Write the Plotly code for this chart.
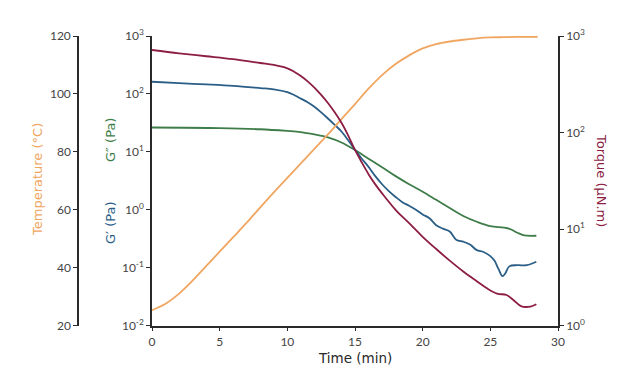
import plotly.graph_objects as go

# ---- data ----
temp_time = [0, 1, 2, 3, 4, 5, 6, 7, 8, 9, 10, 11, 12, 13, 14, 15, 16, 17, 18, 19, 20, 21, 22, 23, 24, 25, 26, 27, 28, 28.5]
temp_vals = [25.3, 27.5, 31.0, 35.5, 40.5, 45.5, 50.5, 55.5, 60.8, 66, 71, 76, 81, 86, 91.3, 96.5, 101.8, 106.5, 110.3,
             113.3, 115.7, 117.2, 118.1, 118.7, 119.2, 119.5, 119.6, 119.7, 119.7, 119.7]

gp_time = [0, 2, 4, 6, 8, 9, 10, 10.5, 11, 11.5, 12, 12.5, 13, 13.5, 14, 14.5, 15, 15.5, 16, 16.5, 17, 17.5, 18, 18.5,
           19, 19.5, 20, 20.5, 21, 21.5, 22, 22.5, 23, 23.5, 24, 24.5, 25, 25.3, 25.6, 25.9, 26.1, 26.4, 27, 27.7, 28.4]
gp_vals = [162, 153, 146, 138, 126, 120, 107, 95.5, 83, 72, 60, 48, 37.6, 29.2, 22.4, 15.8, 10.8, 7.6, 5.5, 3.8, 2.75,
           2.1, 1.66, 1.35, 1.17, 1.0, 0.83, 0.71, 0.54, 0.47, 0.42, 0.30, 0.28, 0.25, 0.20, 0.186, 0.158, 0.132,
           0.095, 0.071, 0.079, 0.105, 0.11, 0.11, 0.126]

gpp_time = [0, 5, 8, 10, 11, 12, 13, 14, 15, 16, 17, 18, 19, 20, 21, 22, 23, 24, 25, 26, 26.5, 27, 27.5, 28.4]
gpp_vals = [26.3, 25.7, 24.5, 22.9, 21.9, 20, 17.8, 14.5, 10.7, 7.6, 5.4, 3.8, 2.75, 2.04, 1.48, 1.07, 0.78, 0.62,
            0.52, 0.49, 0.46, 0.40, 0.36, 0.355]

torque_time = [0, 2, 4, 6, 8, 9, 10, 10.5, 11, 11.5, 12, 12.5, 13, 13.5, 14, 14.5, 15, 15.5, 16, 16.5, 17, 18, 19,
               20, 21, 22, 23, 24, 24.75, 25.5, 26.2, 26.7, 27.3, 27.96, 28.4]
torque_vals = [716, 661, 617, 575, 525, 501, 462, 427, 385, 339, 292, 245, 202, 162, 126, 93, 66, 49, 37, 29, 23.4,
               15.8, 11.5, 8.3, 6.2, 4.7, 3.63, 2.88, 2.43, 2.14, 2.07, 1.84, 1.58, 1.57, 1.66]

x_ticks = [0, 5, 10, 15, 20, 25, 30]
temp_ticks = [20, 40, 60, 80, 100, 120]
mod_tickvals = [0.01, 0.1, 1, 10, 100, 1000]
mod_ticktext = ["10<sup>-2</sup>", "10<sup>-1</sup>", "10<sup>0</sup>", "10<sup>1</sup>", "10<sup>2</sup>", "10<sup>3</sup>"]
tq_tickvals = [1, 10, 100, 1000]
tq_ticktext = ["10<sup>0</sup>", "10<sup>1</sup>", "10<sup>2</sup>", "10<sup>3</sup>"]

C_T = "#F0A660"
C_GP = "#2A5E86"
C_GPP = "#3E7D49"
C_TQ = "#8C1D43"
AX = "#2a2a2a"
TICKC = "#444444"
TICKFONT = "Lato, DejaVu Sans, sans-serif"
TITLEFONT = "DejaVu Sans, sans-serif"

W, H = 641, 389
def px(x):
    return x / W
def py(y):
    return 1 - y / H

xdom = [px(152), px(558)]
ydom = [py(325.5), py(36)]

fig = go.Figure()
fig.add_trace(go.Scatter(x=temp_time, y=temp_vals, yaxis="y2", mode="lines", line=dict(color=C_T, width=1.8, shape="spline"), name="Temperature"))
fig.add_trace(go.Scatter(x=gpp_time, y=gpp_vals, yaxis="y", mode="lines", line=dict(color=C_GPP, width=1.8, shape="spline"), name="G''"))
fig.add_trace(go.Scatter(x=gp_time, y=gp_vals, yaxis="y", mode="lines", line=dict(color=C_GP, width=1.8, shape="spline"), name="G'"))
fig.add_trace(go.Scatter(x=torque_time, y=torque_vals, yaxis="y3", mode="lines", line=dict(color=C_TQ, width=1.8, shape="spline"), name="Torque"))

common = dict(showgrid=False, zeroline=False, showline=True, linecolor=AX, linewidth=1.5,
              ticks="outside", ticklen=4, tickcolor=AX, tickwidth=1.2, automargin=False,
              tickfont=dict(family=TICKFONT, size=12, color=TICKC))

fig.update_layout(
    width=W, height=H, margin=dict(l=0, r=0, t=0, b=0, autoexpand=False),
    paper_bgcolor="white", plot_bgcolor="white", showlegend=False,
    xaxis=dict(domain=xdom, range=[0, 30], tickvals=x_ticks, anchor="y", **common),
    yaxis=dict(domain=ydom, type="log", range=[-2, 3], tickvals=mod_tickvals, ticktext=mod_ticktext,
               anchor="x", side="left", **common),
    yaxis2=dict(domain=ydom, range=[20, 120], tickvals=temp_ticks, overlaying="y", anchor="free",
                position=px(78), side="left", **common),
    yaxis3=dict(domain=ydom, type="log", range=[0, 3], tickvals=tq_tickvals, ticktext=tq_ticktext,
                overlaying="y", anchor="x", side="right", **common),
)

ann = [
    dict(text="Time (min)", x=px(355), y=py(358), color=AX, angle=0, size=13.5),
    dict(text="Temperature (°C)", x=px(37), y=py(180), color=C_T, angle=-90, size=13),
    dict(text="G″ (Pa)", x=px(110), y=py(140), color=C_GPP, angle=-90, size=13),
    dict(text="G′ (Pa)", x=px(110), y=py(223), color=C_GP, angle=-90, size=13),
    dict(text="Torque (µN.m)", x=px(602), y=py(180), color=C_TQ, angle=90, size=13),
]
for a in ann:
    fig.add_annotation(text=a["text"], x=a["x"], y=a["y"], xref="paper", yref="paper",
                       showarrow=False, textangle=a["angle"], xanchor="center", yanchor="middle",
                       font=dict(family=TITLEFONT, size=a["size"], color=a["color"]))

fig.write_html("out.html", config={"displayModeBar": False},
               post_script="document.body.style.margin='0';document.body.style.overflow='hidden';")
